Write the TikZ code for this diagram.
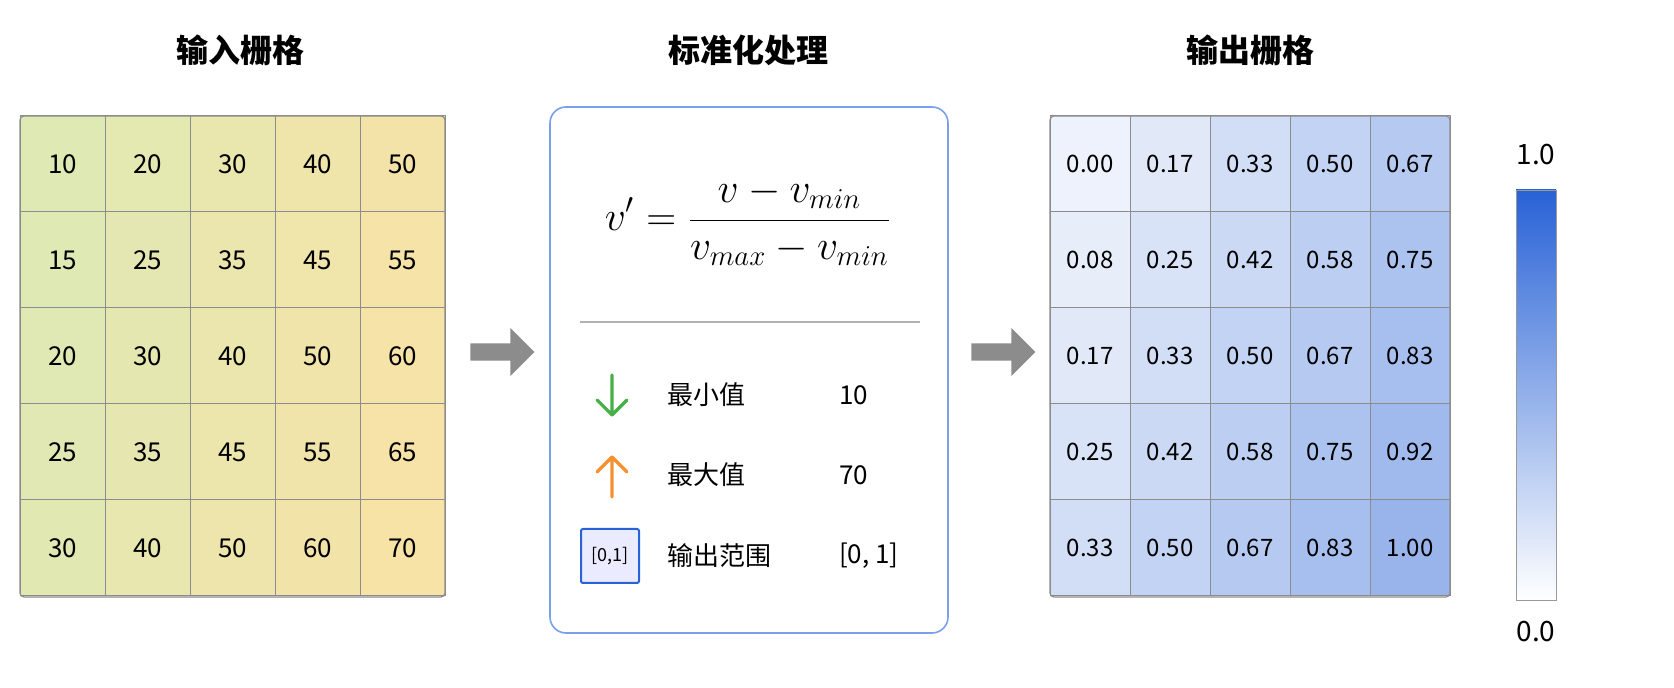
\documentclass[tikz,border=0pt]{standalone}
\usepackage{fontspec}
\setmainfont{Noto Sans CJK SC}
\usepackage{amsmath}
\usetikzlibrary{shapes.arrows}
\definecolor{gA}{RGB}{222,233,180}
\definecolor{gB}{RGB}{250,226,165}
\definecolor{bl}{RGB}{40,98,214}
\definecolor{frm}{RGB}{120,160,235}
\definecolor{grn}{RGB}{70,175,70}
\definecolor{org}{RGB}{245,145,50}
\tikzset{
 x=0.5pt,y=-0.5pt,
 cellbox/.style={draw=black!45,line width=0.5pt,minimum width=42.5pt,minimum height=48pt,inner sep=0pt,font=\fontsize{13}{15}\selectfont},
 ocell/.style={draw=black!45,line width=0.5pt,minimum width=40pt,minimum height=48pt,inner sep=0pt,font=\fontsize{12}{14}\selectfont},
 ttl/.style={font=\fontsize{16}{18}\selectfont\bfseries},
 garrow/.style={single arrow,fill=black!45,draw=none,minimum height=32pt,minimum width=24pt,single arrow head extend=4pt,inner sep=2pt},
 lbl/.style={font=\fontsize{13}{15}\selectfont,anchor=west},
 icarrow/.style={line width=1.6pt,line cap=round,line join=round},
}
\pgfkeys{/pgf/number format/assume math mode=true}
\begin{document}
\begin{tikzpicture}
\useasboundingbox (0,0) rectangle (1674,688);
\node[ttl] (t1) at (240,50) {输入栅格};
\node[ttl] (t2) at (748,50) {标准化处理};
\node[ttl] (t3) at (1250,50) {输出栅格};
% input grid
\foreach \r in {0,...,4}{
 \foreach \c in {0,...,4}{
  \pgfmathtruncatemacro{\v}{10+5*\r+10*\c}
  \pgfmathtruncatemacro{\m}{100-20*\c-3*\r}
  \node[cellbox,fill=gA!\m!gB] (i\r\c) at ({20+85*\c+42.5},{116+96*\r+48}) {\v};
 }}
\draw[black!45,line width=0.6pt,rounded corners=2pt] (20,116) rectangle (445,597);
% arrows
\node[garrow] (a1) at (498,352) {};
\node[garrow] (a2) at (999,352) {};
% middle box
\draw[frm,line width=0.8pt,rounded corners=8pt,fill=white] (550,107) rectangle (948,633);
\node (f) at (748,222) {\fontsize{22}{26}\selectfont$\displaystyle v' = \frac{v - v_{min}}{v_{max} - v_{min}}$};
\draw[black!30,line width=1pt] (580,322) -- (920,322);
\coordinate (d1) at (612,375); \coordinate (d2) at (612,415);
\draw[icarrow,grn] (d1) -- (d2) (597,400) -- (d2) -- (627,400);
\coordinate (u1) at (612,497); \coordinate (u2) at (612,457);
\draw[icarrow,org] (u1) -- (u2) (597,472) -- (u2) -- (627,472);
\node[draw=bl,line width=1pt,fill=blue!8,minimum width=29pt,minimum height=27pt,inner sep=0pt,rounded corners=1pt,font=\fontsize{9}{10}\selectfont] (ic3) at (610,556) {[0,1]};
\node[lbl] (l1) at (660,395) {最小值};
\node[lbl] (l2) at (660,475) {最大值};
\node[lbl] (l3) at (660,556) {输出范围};
\node[lbl] (v1) at (832,395) {10};
\node[lbl] (v2) at (832,475) {70};
\node[lbl] (v3) at (832,556) {[0, 1]};
% output grid
\foreach \r in {0,...,4}{
 \foreach \c in {0,...,4}{
  \pgfmathsetmacro{\val}{(5*\r+10*\c)/60}
  \pgfmathtruncatemacro{\m}{8+40*\val}
  \pgfmathsetmacro{\s}{round(\val*100)/100}
  \node[ocell,fill=bl!\m!white] (o\r\c) at ({1050+80*\c+40},{116+96*\r+48}) {\pgfmathprintnumber[fixed,fixed zerofill,precision=2]{\s}};
 }}
\draw[black!45,line width=0.6pt,rounded corners=2pt] (1050,116) rectangle (1450,597);
% colorbar
\shade[top color=bl,bottom color=white,draw=black!40] (1516,190) rectangle (1556,600);
\node[font=\fontsize{14}{16}\selectfont] (c1) at (1536,155) {1.0};
\node[font=\fontsize{14}{16}\selectfont] (c0) at (1536,632) {0.0};
\end{tikzpicture}
\end{document}
